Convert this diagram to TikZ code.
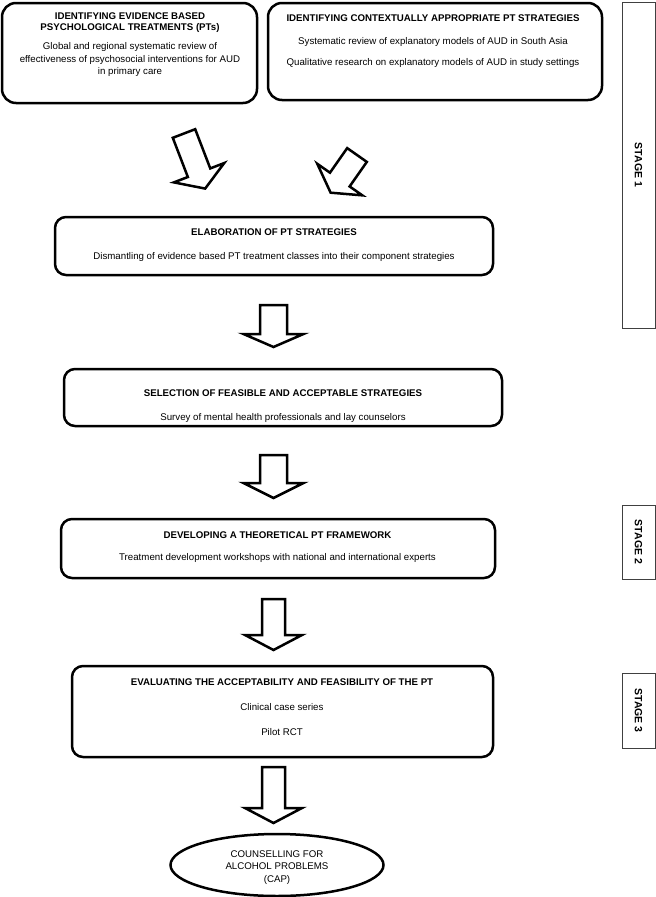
\documentclass[tikz,border=0pt]{standalone}
\usepackage{fontspec}
\setmainfont{Liberation Sans}
\usetikzlibrary{shapes.geometric}
\tikzset{
  stepbox/.style={draw=black, line width=2.5pt, rounded corners=11pt, fill=white},
  stagebox/.style={draw=black!75, line width=1pt, fill=white},
  ttl/.style={font=\fontsize{9.7}{11.3}\selectfont\bfseries, align=center, inner sep=0pt},
  txt/.style={font=\fontsize{9.7}{12.5}\selectfont, align=center, inner sep=0pt},
  stagetxt/.style={font=\fontsize{10.5}{12}\selectfont\bfseries, rotate=-90, inner sep=0pt},
  blockarrow/.style={draw=black, line width=2.5pt, fill=white, line join=miter},
}
% tail centre x, tail centre y, angle, length, shaft width, head width, head length
\newcommand{\blkarrow}[7]{%
  \begin{scope}[shift={(#1,#2)}, rotate=#3]
    \draw[blockarrow] (-#5/2,0) -- (#5/2,0) -- (#5/2,#4-#7) -- (#6/2,#4-#7)
      -- (0,#4) -- (-#6/2,#4-#7) -- (-#5/2,#4-#7) -- cycle;
  \end{scope}}
\begin{document}
\begin{tikzpicture}[x=1pt, y=-1pt]
\useasboundingbox (0,0) rectangle (656,897);
\fill[white] (0,0) rectangle (656,897);

% stage boxes
\draw[stagebox] (622,2) rectangle (655,328);
\node[stagetxt] (s1) at (638.5,165) {STAGE 1};
\draw[stagebox] (622,505) rectangle (655,579);
\node[stagetxt] (s2) at (638.5,542) {STAGE 2};
\draw[stagebox] (622,673) rectangle (655,748);
\node[stagetxt] (s3) at (638.5,710.5) {STAGE 3};

% top boxes
\node[stepbox, minimum width=255pt, minimum height=100pt, rounded corners=14pt] (A) at (129.5,53) {};
\node[ttl] (Atitle) at (130,22.5) {IDENTIFYING EVIDENCE BASED\\PSYCHOLOGICAL TREATMENTS (PTs)};
\node[txt] (Abody) at (130,59.5) {Global and regional systematic review of\\effectiveness of psychosocial interventions for AUD\\in primary care};

\node[stepbox, minimum width=334pt, minimum height=97pt, rounded corners=14pt] (B) at (435,51.5) {};
\node[ttl] (Btitle) at (433,18) {IDENTIFYING CONTEXTUALLY APPROPRIATE PT STRATEGIES};
\node[txt] (Bl1) at (433,42) {Systematic review of explanatory models of AUD in South Asia};
\node[txt] (Bl2) at (433,63) {Qualitative research on explanatory models of AUD in study settings};

% tilted arrows
\blkarrow{184}{133.5}{21}{59}{24}{54}{17}
\blkarrow{357}{155}{-35}{46}{24}{55}{16}

% elaboration
\node[stepbox, minimum width=438pt, minimum height=58pt] (E) at (274,246) {};
\node[ttl] (Etitle) at (274,232) {ELABORATION OF PT STRATEGIES};
\node[txt] (Ebody) at (274,257) {Dismantling of evidence based PT treatment classes into their component strategies};

\blkarrow{273.5}{305}{0}{42}{27}{60}{13}

% selection
\node[stepbox, minimum width=438pt, minimum height=57pt] (S) at (283,397.5) {};
\node[ttl] (Stitle) at (283,393) {SELECTION OF FEASIBLE AND ACCEPTABLE STRATEGIES};
\node[txt] (Sbody) at (283,418) {Survey of mental health professionals and lay counselors};

\blkarrow{273.5}{455}{0}{43}{27}{60}{15}

% developing
\node[stepbox, minimum width=434pt, minimum height=59pt] (D) at (278,548.5) {};
\node[ttl] (Dtitle) at (277.5,535) {DEVELOPING A THEORETICAL PT FRAMEWORK};
\node[txt] (Dbody) at (277.5,558) {Treatment development workshops with national and international experts};

\blkarrow{273.5}{599}{0}{51}{23}{57}{15}

% evaluating
\node[stepbox, minimum width=421pt, minimum height=91pt] (V) at (282.5,711.5) {};
\node[ttl] (Vtitle) at (282,682) {EVALUATING THE ACCEPTABILITY AND FEASIBILITY OF THE PT};
\node[txt] (Vl1) at (282,707) {Clinical case series};
\node[txt] (Vl2) at (282,732) {Pilot RCT};

\blkarrow{273.5}{767}{0}{56}{23}{57}{15}

% CAP
\node[draw=black, line width=2.5pt, ellipse, minimum width=213pt, minimum height=62pt, inner sep=0pt] (C) at (277,865) {};
\node[txt, font=\fontsize{9.7}{12.8}\selectfont] (Ctext) at (277,867.5) {COUNSELLING FOR\\ALCOHOL PROBLEMS\\(CAP)};
\end{tikzpicture}
\end{document}
